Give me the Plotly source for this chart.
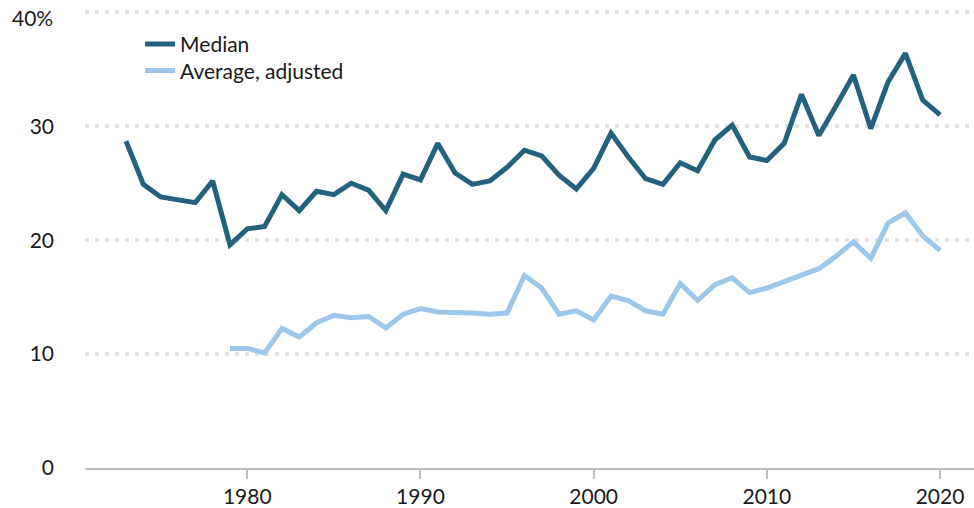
import plotly.graph_objects as go

years_median = list(range(1973, 2021))
median = [28.7, 24.9, 23.8, 23.5, 23.3, 25.2, 19.6, 21.0, 21.2, 24.0,
          22.6, 24.3, 24.0, 25.0, 24.4, 22.6, 25.8, 25.3, 28.5, 25.9,
          24.9, 25.2, 26.4, 27.9, 27.4, 25.7, 24.5, 26.3, 29.4, 27.3,
          25.4, 24.9, 26.8, 26.1, 28.8, 30.1, 27.3, 27.0, 28.5, 32.8,
          29.2, 31.8, 34.5, 29.8, 33.9, 36.4, 32.3, 31.0]

years_avg = list(range(1979, 2021))
average_adj = [10.5, 10.5, 10.1, 12.25, 11.5, 12.75, 13.4, 13.2, 13.3, 12.3,
               13.5, 14.0, 13.7, 13.7, 13.6, 13.5, 13.6, 16.9, 15.8, 13.5,
               13.8, 13.0, 15.1, 14.7, 13.8, 13.5, 16.2, 14.7, 16.1, 16.7,
               15.4, 15.8, 16.4, 16.9, 17.5, 18.6, 19.85, 18.4, 21.5, 22.4,
               20.4, 19.1]

x_ticks = [1980, 1990, 2000, 2010, 2020]
y_ticks = [0, 10, 20, 30, 40]
y_tick_labels = ["0", "10", "20", "30", "40%"]

FONT = "Lato, 'Open Sans', sans-serif"

fig = go.Figure()
fig.add_trace(go.Scatter(x=years_median, y=median, mode="lines", name="Median",
                         line=dict(color="#24617f", width=5), legend="legend"))
fig.add_trace(go.Scatter(x=years_avg, y=average_adj, mode="lines", name="Average, adjusted",
                         line=dict(color="#9dc7ea", width=5), legend="legend2"))

# top tick label drawn as annotation so it can sit just below the top edge
fig.add_annotation(xref="paper", yref="y", x=0, y=y_ticks[-1], text=y_tick_labels[-1],
                   showarrow=False, xanchor="right", yanchor="middle",
                   xshift=-30, yshift=-5, font=dict(size=21, color="#1a1a1a"))

fig.update_layout(
    width=974, height=508,
    margin=dict(l=85, r=0, t=9, b=40),
    paper_bgcolor="white", plot_bgcolor="white",
    font=dict(family=FONT, size=22, color="#1a1a1a"),
    showlegend=True,
    legend=dict(x=0.062, y=0.923, xanchor="left", yanchor="middle",
                bgcolor="rgba(0,0,0,0)", font=dict(size=21), itemwidth=30),
    legend2=dict(x=0.062, y=0.865, xanchor="left", yanchor="middle",
                 bgcolor="rgba(0,0,0,0)", font=dict(size=21), itemwidth=30),
)
fig.update_xaxes(range=[1970.63, 2021.96], tickvals=x_ticks,
                 showgrid=False, zeroline=False,
                 showline=True, linecolor="#bdbdbd", linewidth=2,
                 ticks="outside", ticklen=9, tickcolor="#bdbdbd", tickwidth=2,
                 tickfont=dict(size=21))
fig.update_yaxes(range=[0, 40.3], tickvals=y_ticks,
                 ticktext=y_tick_labels[:-1] + [""],
                 showgrid=True, gridcolor="#e3e3e3", gridwidth=4,
                 griddash="4px,6px", zeroline=False, showline=False,
                 ticks="", ticklabelstandoff=30, ticklabeloverflow="allow",
                 tickfont=dict(size=21))

fig.write_html("out.html", config={"displayModeBar": False},
               post_script="document.body.style.margin='0';")
